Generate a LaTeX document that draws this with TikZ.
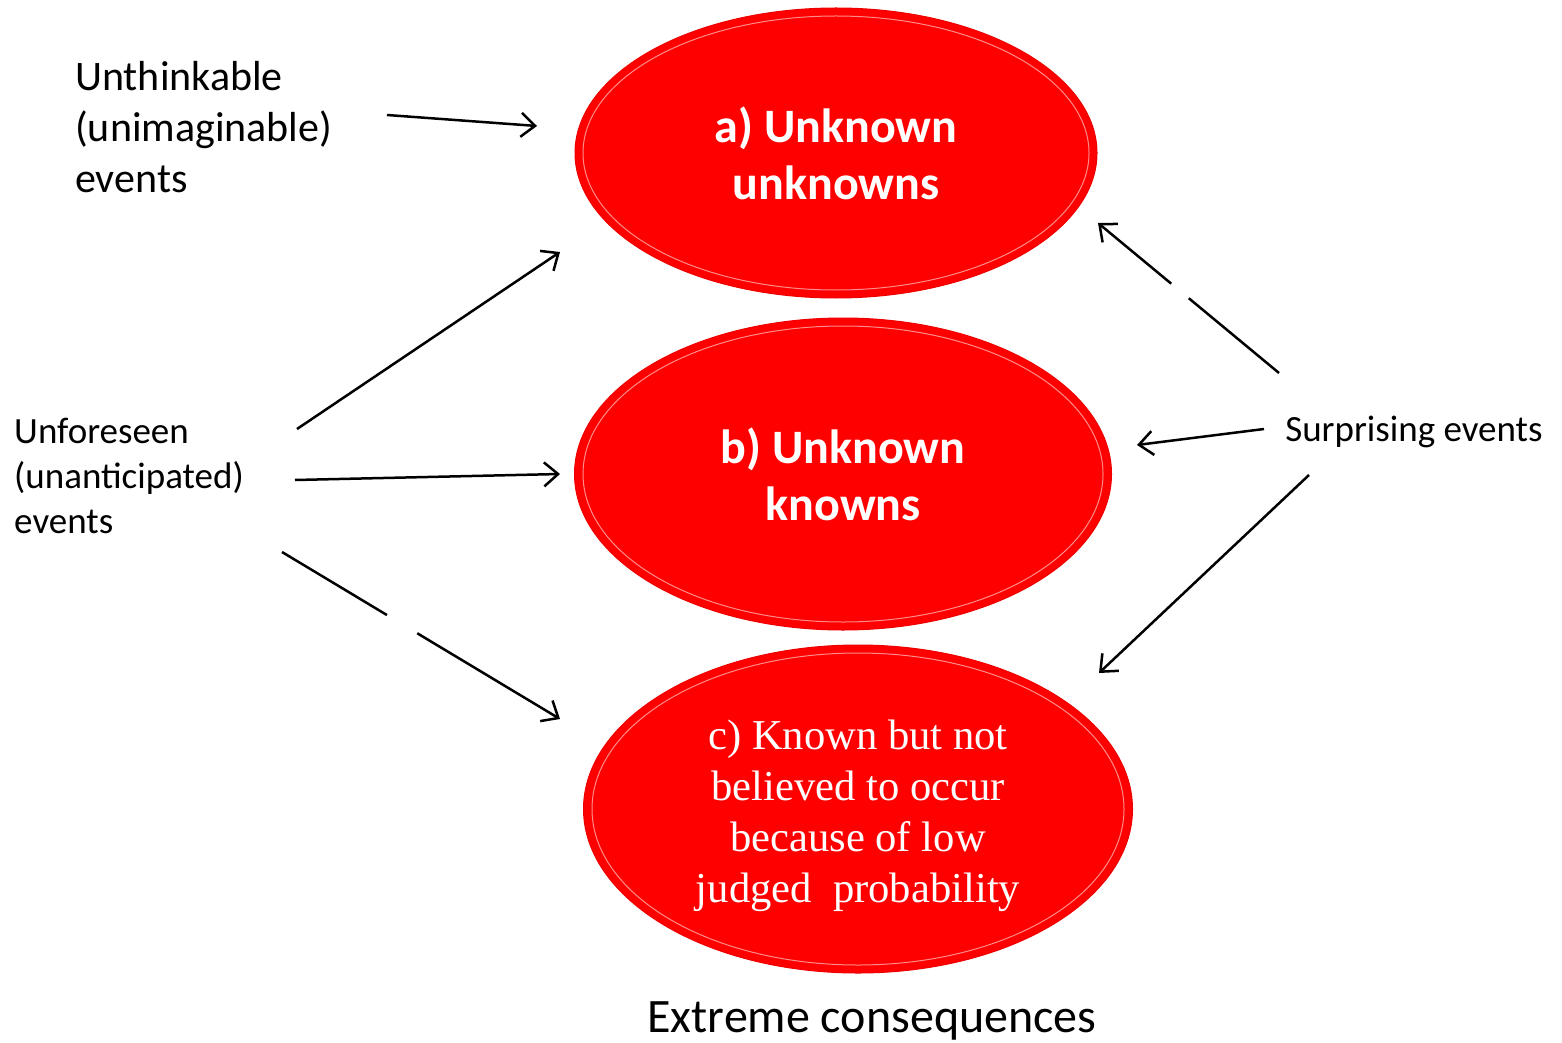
\documentclass[tikz,border=0pt]{standalone}
\usepackage{fontspec}
\setmainfont{Carlito}
\newfontfamily\timesfont{Liberation Serif}
\usetikzlibrary{arrows.meta,shapes.geometric}

\begin{document}
\begin{tikzpicture}[x=0.5pt,y=-0.5pt,>={Straight Barb[length=7pt,width=12pt]},line width=1.25pt,
    bubble/.style={ellipse,fill=red,draw=red!93!black,line width=0.5pt,inner sep=0pt,text=white,align=center},
    ring/.style={draw=red!45!white,line width=0.5pt},
    evtext/.style={align=left,anchor=west,inner sep=0pt}]
        \useasboundingbox (0,0) rectangle (1562,1043);

        % the three ellipses
        \node[bubble,minimum width=261pt,minimum height=145pt,font=\fontsize{24}{28.5}\selectfont\bfseries] (a) at (836,153) {a) Unknown\\unknowns};
        \node[bubble,minimum width=268.5pt,minimum height=156pt,font=\fontsize{24}{28.5}\selectfont\bfseries] (b) at (843,474) {b) Unknown\\knowns};
        \node[bubble,minimum width=274.5pt,minimum height=164pt,font=\timesfont\fontsize{21.3}{25.5}\selectfont] (c) at (858,809) {\raisebox{-3.5pt}[\height][\depth]{\begin{tabular}{@{}c@{}}c) Known but not\\believed to occur\\because of low\\judged~ probability\end{tabular}}};
        \draw[ring] (a.center) ellipse [x radius=126.5pt, y radius=68.5pt];
        \draw[ring] (b.center) ellipse [x radius=130pt, y radius=74pt];
        \draw[ring] (c.center) ellipse [x radius=133pt, y radius=78pt];

        % texts
        \node[evtext,font=\fontsize{21}{25.5}\selectfont] (unthink) at (74,127) {Unthinkable\\(unimaginable)\\events};
        \node[evtext,font=\fontsize{18.5}{22.5}\selectfont] (unfore) at (13,476) {Unforeseen\\(unanticipated)\\events};
        \node[evtext,font=\fontsize{18.5}{22.5}\selectfont] (surpr) at (1284,432) {Surprising events};
        \node[font=\fontsize{24}{28}\selectfont,inner sep=0pt] (extreme) at (872,1021) {Extreme consequences};

        % arrow ends
        \coordinate (unthink-out) at (387,115);
        \coordinate (a-in1) at (537,126);
        \coordinate (unfore-out1) at (297,429);
        \coordinate (a-in2) at (560,252);
        \coordinate (unfore-out2) at (295,480);
        \coordinate (b-in1) at (560,474);
        \coordinate (unfore-out3) at (282,552);
        \coordinate (c-in1) at (560,719);
        \coordinate (surpr-out1) at (1279,373);
        \coordinate (a-in3) at (1098,223);
        \coordinate (surpr-out2) at (1264,429);
        \coordinate (b-in2) at (1137,445);
        \coordinate (surpr-out3) at (1309,475);
        \coordinate (c-in2) at (1099,673);

        \draw[->] (unthink-out) -- (a-in1);
        \draw[->] (unfore-out1) -- (a-in2);
        \draw[->] (unfore-out2) -- (b-in1);
        \draw[->,dash pattern=on 61.2pt off 17.7pt on 120pt] (unfore-out3) -- (c-in1);
        \draw[->,dash pattern=on 58.6pt off 11.4pt on 120pt] (surpr-out1) -- (a-in3);
        \draw[->] (surpr-out2) -- (b-in2);
        \draw[->] (surpr-out3) -- (c-in2);
\end{tikzpicture}
\end{document}
